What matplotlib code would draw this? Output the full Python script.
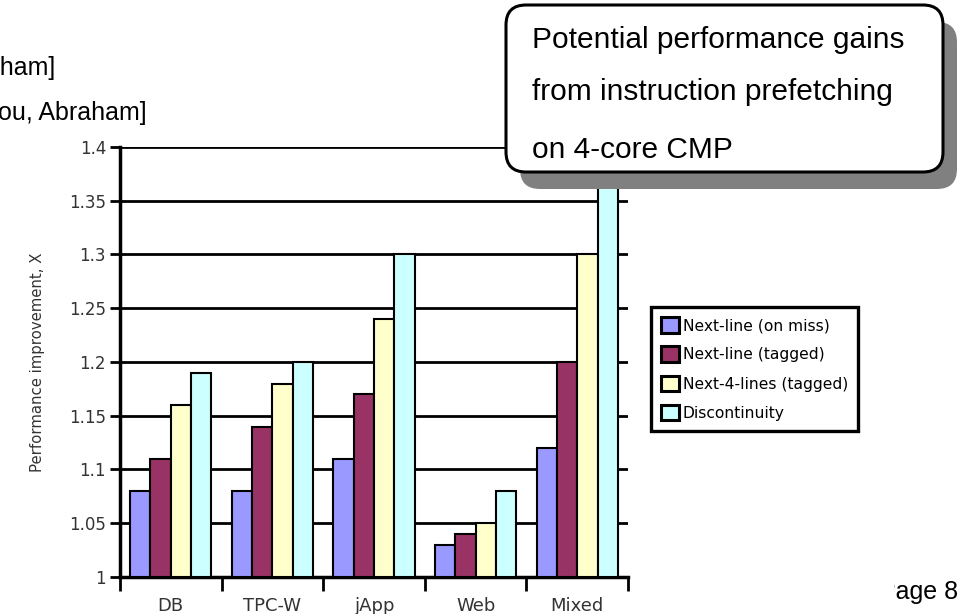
import matplotlib
matplotlib.use("Agg")
import matplotlib.pyplot as plt
import numpy as np
from matplotlib.patches import FancyBboxPatch, Rectangle, Patch
from matplotlib.transforms import IdentityTransform

# ── data ──────────────────────────────────────
workloads = ["DB", "TPC-W", "jApp", "Web", "Mixed"]
series_names = ["Next-line (on miss)", "Next-line (tagged)",
                "Next-4-lines (tagged)", "Discontinuity"]
next_line_miss = [1.08, 1.08, 1.11, 1.03, 1.12]
next_line_tagged = [1.11, 1.14, 1.17, 1.04, 1.20]
next_4_lines = [1.16, 1.18, 1.24, 1.05, 1.30]
discontinuity = [1.19, 1.20, 1.30, 1.08, 1.43]
y_ticks = [1.0, 1.05, 1.1, 1.15, 1.2, 1.25, 1.3, 1.35, 1.4]
y_tick_labels = ["1", "1.05", "1.1", "1.15", "1.2", "1.25", "1.3", "1.35", "1.4"]

colors = ["#9999ff", "#993366", "#ffffcc", "#ccffff"]

W, H = 961, 614
fig = plt.figure(figsize=(W / 100, H / 100), dpi=100)
fig.patch.set_facecolor("white")


def fx(px):
    return px / W


def fy(py):
    return 1 - py / H


# plot area in pixel terms
left, right, top, bottom = 120, 628, 147, 577
ax = fig.add_axes([fx(left), fy(bottom), fx(right - left), (bottom - top) / H])

series = [next_line_miss, next_line_tagged, next_4_lines, discontinuity]
x = np.arange(len(workloads))
bw = 0.2
for k, vals in enumerate(series):
    ax.bar(x - 0.3 + k * bw, np.array(vals) - 1.0, bw, bottom=1.0,
           color=colors[k], edgecolor="black", linewidth=1.5, zorder=3)

ax.set_xlim(-0.5, len(workloads) - 0.5)
ax.set_ylim(1.0, 1.4)
ax.set_yticks(y_ticks)
ax.set_yticklabels(y_tick_labels, fontsize=12, color="#333333")
for yv in y_ticks[1:]:
    ax.axhline(yv, color="black", lw=2, zorder=1)

# category boundary ticks below the axis
ax.set_xticks(np.arange(-0.5, len(workloads) + 0.5, 1.0))
ax.set_xticklabels([])
ax.tick_params(axis="x", direction="out", length=10, width=2, color="black")
ax.tick_params(axis="y", direction="out", length=7, width=2, color="black", pad=3)
label_y = -(606 - bottom) / (bottom - top)
for i, name in enumerate(workloads):
    ax.text(i, label_y, name, transform=ax.get_xaxis_transform(), ha="center",
            va="center", fontsize=13, color="#333333")

for s in ["top", "right"]:
    ax.spines[s].set_visible(False)
ax.spines["left"].set_linewidth(2.5)
ax.spines["bottom"].set_linewidth(2.5)
ax.set_facecolor("white")

fig.text(fx(38), fy(362), "Performance improvement, X", rotation=90,
         ha="center", va="center", fontsize=10.7, color="#333333")

# legend
handles = [Patch(facecolor=c, edgecolor="black", linewidth=2.2) for c in colors]
leg = fig.legend(handles, series_names, loc="upper left",
                 bbox_to_anchor=(fx(651), fy(307)), fontsize=11.2,
                 handlelength=1.15, handleheight=1.15, handletextpad=0.25,
                 labelspacing=0.85, borderpad=0.65, borderaxespad=0,
                 fancybox=False, framealpha=1)
leg.get_frame().set_edgecolor("black")
leg.get_frame().set_linewidth(2.4)

# clipped slide text around the chart
fig.text(fx(-52), fy(68), "Abraham]", fontsize=18, family="Liberation Sans",
         ha="left", va="center", color="black")
fig.text(fx(-2), fy(113), "ou, Abraham]", fontsize=18, family="Liberation Sans",
         ha="left", va="center", color="black")
fig.text(fx(958), fy(592), "Page 8", fontsize=18, family="Liberation Sans",
         ha="right", va="center", color="black", zorder=1)
fig.add_artist(Rectangle((fx(862), 0), fx(32), 45 / H,
                         transform=fig.transFigure, facecolor="white",
                         edgecolor="none", zorder=5))

# callout box with drop shadow
bx0, by0, bx1, by1 = 506, 5, 943, 172
shadow = FancyBboxPatch((bx0 + 14, H - by1 - 17), bx1 - bx0, by1 - by0,
                        boxstyle="round,pad=0,rounding_size=20",
                        transform=IdentityTransform(), facecolor="#808080",
                        edgecolor="none", zorder=10)
box = FancyBboxPatch((bx0, H - by1), bx1 - bx0, by1 - by0,
                     boxstyle="round,pad=0,rounding_size=20",
                     transform=IdentityTransform(), facecolor="white",
                     edgecolor="black", linewidth=2.2, zorder=11)
fig.add_artist(shadow)
fig.add_artist(box)
callout_lines = ["Potential performance gains", "from instruction prefetching",
                 "on 4-core CMP"]
for base, line in zip([48, 100, 158], callout_lines):
    fig.text(fx(532), fy(base), line, fontsize=21.5,
             family="Liberation Sans", ha="left", va="baseline",
             color="black", zorder=12)

fig.savefig("out.png", dpi=100)
